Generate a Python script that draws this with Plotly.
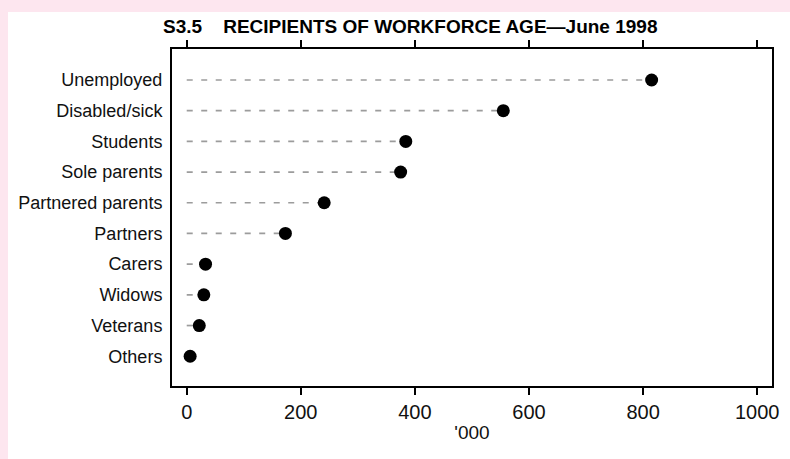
import plotly.graph_objects as go

# Recipients of workforce age by payment type, June 1998 ('000)
categories = ["Unemployed", "Disabled/sick", "Students", "Sole parents",
              "Partnered parents", "Partners", "Carers", "Widows",
              "Veterans", "Others"]
values = [815, 555, 384, 375, 241, 173, 33, 30, 22, 6]
x_ticks = [0, 200, 400, 600, 800, 1000]

# rows from top (first category) to bottom
n = len(categories)
rows = [n - 1 - i for i in range(n)]

W, H = 790, 459
L, R, T, B = 172, 18, 49, 73
pw, ph = W - L - R, H - T - B

def px_x(p):
    return (p - L) / pw

def px_y(p):
    return (H - B - p) / ph

# dashed leader lines from zero to each value
lx, ly = [], []
for v, r in zip(values, rows):
    lx += [0, v, None]
    ly += [r, r, None]

fig = go.Figure()
fig.add_trace(go.Scatter(
    x=lx, y=ly, mode="lines",
    line=dict(color="#9c9c9c", width=1.7, dash="6px,8.5px"),
    hoverinfo="skip", showlegend=False,
))
fig.add_trace(go.Scatter(
    x=values, y=rows, mode="markers",
    marker=dict(color="black", size=13),
    showlegend=False,
))

font_family = "Liberation Sans, Arial, sans-serif"

fig.update_layout(
    width=W, height=H,
    margin=dict(l=L, r=R, t=T, b=B),
    paper_bgcolor="#fde6ef",
    plot_bgcolor="white",
    font=dict(family=font_family, size=18, color="#111111"),
    shapes=[dict(
        type="rect", xref="paper", yref="paper", layer="below",
        x0=px_x(8), x1=px_x(W + 2), y0=px_y(H + 2), y1=px_y(12),
        fillcolor="white", line=dict(width=0),
    )],
    annotations=[dict(
        xref="paper", yref="paper",
        x=px_x(161), y=px_y(27), xanchor="left", yanchor="middle",
        text="S3.5\u00a0\u00a0\u00a0\u00a0RECIPIENTS OF WORKFORCE AGE\u2014June 1998",
        showarrow=False,
        font=dict(family=font_family, size=19, color="black", weight="bold"),
    )],
)

fig.update_xaxes(
    range=[-25.8, 1026],
    tickvals=x_ticks, ticktext=[str(t) for t in x_ticks],
    ticks="outside", ticklen=7, tickwidth=1.5, tickcolor="black",
    showline=True, linecolor="black", linewidth=2, mirror="ticks",
    showgrid=False, zeroline=False,
    tickfont=dict(size=20),
    title=dict(text="'000", font=dict(size=19), standoff=4),
)
fig.update_yaxes(
    range=[-0.97, 10.01],
    tickvals=rows, ticktext=categories,
    ticks="outside", ticklen=4, tickcolor="rgba(0,0,0,0)",
    showline=True, linecolor="black", linewidth=2, mirror=True,
    showgrid=False, zeroline=False,
    tickfont=dict(size=18),
)

fig.write_html("out.html")
